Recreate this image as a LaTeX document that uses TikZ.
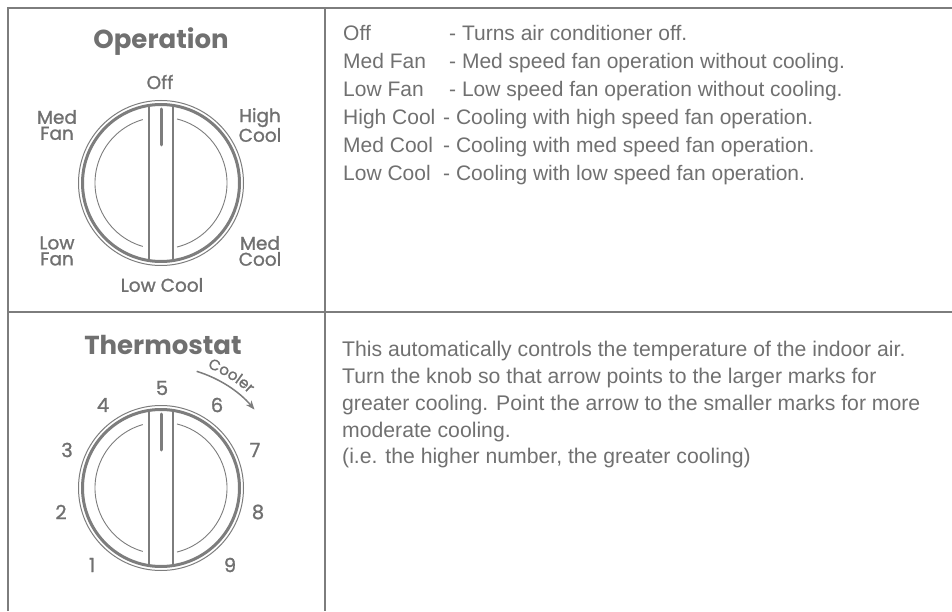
\documentclass[tikz,border=0pt]{standalone}
\usepackage{fontspec}
\setmainfont{Liberation Sans}
\newfontfamily\descfont{Liberation Sans}
\newfontfamily\dialfont[FakeBold=1.2]{Poppins}
\newfontfamily\titlefont{Poppins}
\usetikzlibrary{arrows.meta,decorations.text}
\definecolor{ln}{RGB}{125,125,125}
\definecolor{tx}{RGB}{112,112,112}
\begin{document}
\begin{tikzpicture}[x=1pt,y=1pt,
 frame/.style={draw=ln,line width=1.8pt},
 desc/.style={anchor=base west,inner sep=0pt,text=tx,font=\descfont\fontsize{21}{27}\selectfont},
 para/.style={anchor=base west,inner sep=0pt,text=tx,font=\descfont\fontsize{21.2}{27}\selectfont},
 dlabel/.style={inner sep=0pt,text=tx,align=center,font=\dialfont\fontsize{18.5}{16}\selectfont},
 dtitle/.style={inner sep=0pt,text=tx,font=\titlefont\bfseries\fontsize{26}{26}\selectfont},
 num/.style={inner sep=0pt,text=tx,font=\dialfont\fontsize{19.5}{19.5}\selectfont},
 dial/.pic={
   \draw[ln,line width=1pt] (0,0) circle (82.5);
   \draw[ln,line width=3pt] (0,0) circle (78.5);
   \draw[ln,line width=0.9pt] (106:66) arc (106:254:66);
   \draw[ln,line width=0.9pt] (-76:66) arc (-76:76:66);
   \draw[ln,line width=2pt] (-12,-77.6) -- (-12,77.6);
   \draw[ln,line width=2pt] (12,-77.6) -- (12,77.6);
   \draw[ln,line width=3pt,line cap=round] (0,74) -- (0,38);
 }]
\useasboundingbox (0,0) rectangle (952,611);
% frame
\coordinate (bl) at (8,0);
\coordinate (tl) at (8,603);
\coordinate (tr) at (952,603);
\coordinate (mt) at (325,603);
\coordinate (mb) at (325,0);
\coordinate (dl) at (8,299);
\coordinate (dr) at (952,299);
\draw[frame] (bl) -- (tl) -- (tr);
\draw[frame] (mt) -- (mb);
\draw[frame] (dl) -- (dr);

% Operation dial
\coordinate (opc) at (161,428);
\pic at (opc) {dial};
\node[dtitle] (optitle) at (161,569) {Operation};
\node[dlabel] (off) at (160,529) {Off};
\node[dlabel] (medfan) at (57,486) {Med\\Fan};
\node[dlabel] (highcool) at (260,486) {High\\Cool};
\node[dlabel] (lowfan) at (57,360) {Low\\Fan};
\node[dlabel] (medcool) at (260,360) {Med\\Cool};
\node[dlabel] (lowcool) at (162,326) {Low Cool};

% Thermostat dial
\coordinate (thc) at (161,123);
\pic at (thc) {dial};
\node[dtitle] (thtitle) at (163,266) {Thermostat};
\node[num] (n5) at (162,223) {5};
\node[num] (n4) at (103,206) {4};
\node[num] (n6) at (217,206) {6};
\node[num] (n3) at (67,161) {3};
\node[num] (n7) at (255,161) {7};
\node[num] (n2) at (61,99) {2};
\node[num] (n8) at (258,99) {8};
\node[num] (n1) at (92,46) {1};
\node[num] (n9) at (230,46) {9};
\draw[ln,line width=1.5pt,-{Stealth[length=9pt,width=7pt]}] ([shift={(73:122)}]thc) arc (73:40:122);
\path[decorate,decoration={text along path,text align=center,text color=tx,
  text={|\dialfont\fontsize{15}{15}\selectfont|Cooler}}]
  ([shift={(74:129)}]thc) arc (74:42:129);

% Operation descriptions
\node[desc] (l1) at (343,570) {Off};
\node[desc] (d1) at (449,570) {- Turns air conditioner off.};
\node[desc] (l2) at (343,542) {Med Fan};
\node[desc] (d2) at (449,542) {- Med speed fan operation without cooling.};
\node[desc] (l3) at (343,514) {Low Fan};
\node[desc] (d3) at (449,514) {- Low speed fan operation without cooling.};
\node[desc] (l4) at (343,486) {High Cool};
\node[desc] (d4) at (443,486) {- Cooling with high speed fan operation.};
\node[desc] (l5) at (343,458) {Med Cool};
\node[desc] (d5) at (443,458) {- Cooling with med speed fan operation.};
\node[desc] (l6) at (343,430) {Low Cool};
\node[desc] (d6) at (443,430) {- Cooling with low speed fan operation.};

% Thermostat description
\node[para] (p1) at (342,255) {This automatically controls the temperature of the indoor air.};
\node[para] (p2) at (342,228) {Turn the knob so that arrow points to the larger marks for};
\node[para] (p3) at (342,201) {greater cooling. Point the arrow to the smaller marks for more};
\node[para] (p4) at (342,174) {moderate cooling.};
\node[para] (p5) at (342,147.5) {(i.e. the higher number, the greater cooling)};
\end{tikzpicture}
\end{document}
